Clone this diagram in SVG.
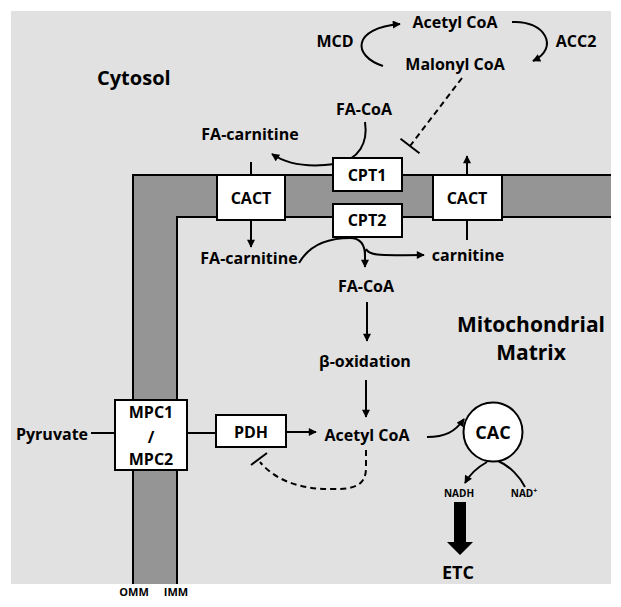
<svg xmlns="http://www.w3.org/2000/svg" width="621" height="607" viewBox="0 0 621 607">
<style>
text{font-family:"Open Sans","DejaVu Sans",sans-serif;font-weight:bold;fill:#000}
.lbl{font-size:16px}
.box{fill:#fff;stroke:#000;stroke-width:2}
.ln{fill:none;stroke:#000;stroke-width:2}
.arr{fill:none;stroke:#000;stroke-width:2;marker-end:url(#ah)}
.dash{fill:none;stroke:#000;stroke-width:2;stroke-dasharray:6 4}
.mem{fill:#959595;stroke:none}
</style>
<defs>
<marker id="ah" viewBox="0 0 10 10" refX="9" refY="5" markerWidth="9" markerHeight="8" markerUnits="userSpaceOnUse" orient="auto">
<path d="M0,0 L10,5 L0,10 z" fill="#000"/>
</marker>
</defs>
<rect x="0" y="0" width="621" height="607" fill="#fff"/>
<rect x="11" y="11" width="600" height="573" fill="#e1e1e1"/>
<g id="membrane">
<path class="mem" d="M133,584 V175 H611 V217 H177 V584 Z"/>
<path class="ln" d="M133,584 V175 H611"/>
<path class="ln" d="M177,584 V217 H611"/>
</g>
<g id="regions">
<text x="97" y="85" font-size="20">Cytosol</text>
<text x="531" y="332" font-size="21" text-anchor="middle">Mitochondrial</text>
<text x="531" y="360" font-size="21" text-anchor="middle">Matrix</text>
<text x="134" y="596" font-size="11" text-anchor="middle">OMM</text>
<text x="176" y="596" font-size="11" text-anchor="middle">IMM</text>
</g>
<g id="connectors">
<path class="arr" d="M383,66 C352,56 352,28 400,24"/>
<path class="arr" d="M512,22 C545,20 560,48 533,61"/>
<path class="dash" d="M462,78 L410,146"/>
<path class="ln" d="M400.5,138.7 L419.5,153.3"/>
<path class="arr" d="M365,122 C368,142 360,160 335,164 C305,168 285,163 272,154"/>
<path class="ln" d="M251,162 V175"/>
<path class="arr" d="M251,220 V247"/>
<path class="arr" d="M467,175 V156"/>
<path class="ln" d="M467,220 V240"/>
<path class="ln" d="M299,263 C310,244 330,238 350,238 C362,238 365,246 365,256"/>
<path class="arr" d="M365,250 V267"/>
<path class="arr" d="M366,249 C370,257 385,255 424,255"/>
<path class="arr" d="M367,302 V341"/>
<path class="arr" d="M366,380 V417"/>
<path class="ln" d="M91,433 H115"/>
<path class="ln" d="M187,433 H216"/>
<path class="arr" d="M286,432 H316"/>
<path class="dash" d="M366,450 L366,468 C366,485 355,489 335,489 C300,490 275,480 260,462"/>
<path class="ln" d="M251,465 L267,453"/>
<path class="arr" d="M427,437 C445,437 455,432 464,419"/>
<path class="arr" d="M487,462 C478,467 470,474 465,483"/>
<path class="ln" d="M498,461 C510,466 520,477 525,487"/>
<path d="M454,502 H466 V542 H473 L460,555 L447,542 H454 Z" fill="#000"/>
</g>
<g id="acetylcoa-cyto"><text class="lbl" x="455" y="28" text-anchor="middle">Acetyl CoA</text></g>
<g id="malonylcoa"><text class="lbl" x="455" y="70" text-anchor="middle">Malonyl CoA</text></g>
<g id="mcd"><text class="lbl" x="335" y="47" text-anchor="middle">MCD</text></g>
<g id="acc2"><text class="lbl" x="576" y="47" text-anchor="middle">ACC2</text></g>
<g id="facoa-cyto"><text class="lbl" x="364" y="115" text-anchor="middle">FA-CoA</text></g>
<g id="facarn-cyto"><text class="lbl" x="250" y="140" text-anchor="middle">FA-carnitine</text></g>
<g id="cact1"><rect class="box" x="217" y="175" width="68" height="45"/><text class="lbl" x="251" y="204" text-anchor="middle">CACT</text></g>
<g id="cpt1"><rect class="box" x="333" y="158" width="69" height="33"/><text class="lbl" x="367" y="181" text-anchor="middle">CPT1</text></g>
<g id="cpt2"><rect class="box" x="333" y="204" width="69" height="33"/><text class="lbl" x="367" y="226" text-anchor="middle">CPT2</text></g>
<g id="cact2"><rect class="box" x="433" y="175" width="69" height="45"/><text class="lbl" x="467" y="204" text-anchor="middle">CACT</text></g>
<g id="facarn-mat"><text class="lbl" x="249" y="264" text-anchor="middle">FA-carnitine</text></g>
<g id="carnitine"><text class="lbl" x="468" y="261" text-anchor="middle">carnitine</text></g>
<g id="facoa-mat"><text class="lbl" x="366" y="292" text-anchor="middle">FA-CoA</text></g>
<g id="betaox"><text class="lbl" x="365" y="367" text-anchor="middle">β-oxidation</text></g>
<g id="pyruvate"><text class="lbl" x="52" y="440" text-anchor="middle">Pyruvate</text></g>
<g id="mpc"><rect class="box" x="115" y="400" width="72" height="70"/>
<text class="lbl" x="151" y="418" text-anchor="middle">MPC1</text>
<text class="lbl" x="151" y="443" text-anchor="middle">/</text>
<text class="lbl" x="151" y="465" text-anchor="middle">MPC2</text></g>
<g id="pdh"><rect class="box" x="216" y="415" width="70" height="32"/><text class="lbl" x="251" y="438" text-anchor="middle">PDH</text></g>
<g id="acetylcoa-mat"><text class="lbl" x="367" y="441" text-anchor="middle">Acetyl CoA</text></g>
<g id="cac"><circle cx="493" cy="432" r="29.5" class="box"/><text x="493" y="439" font-size="18" text-anchor="middle">CAC</text></g>
<g id="nadh"><text x="459" y="497" font-size="10" text-anchor="middle">NADH</text></g>
<g id="nad"><text x="524" y="497" font-size="10" text-anchor="middle">NAD<tspan font-size="7" dy="-4">+</tspan></text></g>
<g id="etc"><text x="458" y="579" font-size="18" text-anchor="middle">ETC</text></g>
</svg>
